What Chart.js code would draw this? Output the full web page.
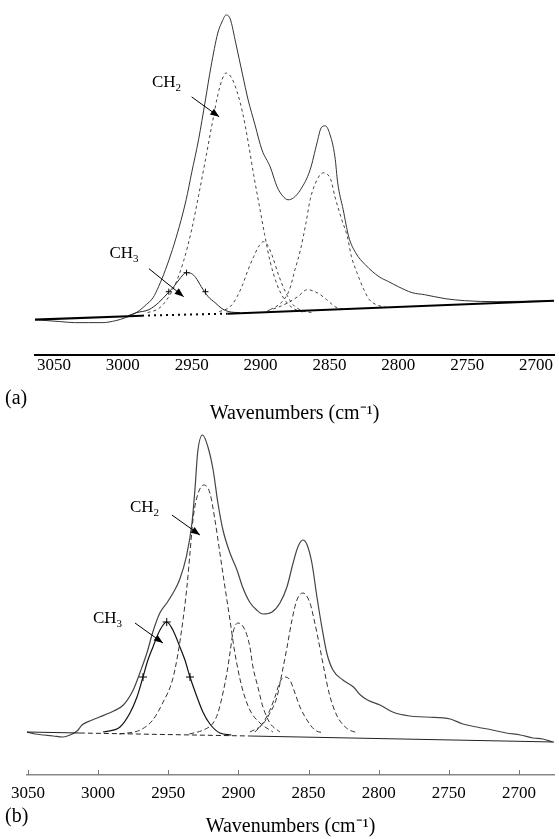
<!DOCTYPE html>
<html>
<head>
<meta charset="utf-8">
<script src="https://cdn.jsdelivr.net/npm/chart.js@4.4.0/dist/chart.umd.min.js"></script>
<style>
  body { margin: 0; background: #fff; }
  #wrap { position: relative; width: 559px; height: 839px; overflow: hidden; }
  canvas { position: absolute; left: 0; }
  .tag { position: absolute; left: 5px; font: 20px 'Liberation Serif', serif; line-height: 24px; color: #000; }
</style>
</head>
<body>
<div id="wrap">
  <canvas id="chartA" width="559" height="430" style="top:0"></canvas>
  <canvas id="chartB" width="559" height="419" style="top:420px"></canvas>
  <div class="tag" style="top:385px">(a)</div>
  <div class="tag" style="top:803px">(b)</div>
</div>
<script>
// ---- panel (a) ----
const aSpecWn = [3063, 3055, 3045, 3035, 3025, 3015, 3005, 2998, 2993, 2988, 2983, 2978, 2974, 2969, 2964, 2959, 2954, 2950, 2945, 2940, 2936, 2931, 2928, 2925, 2922, 2918, 2913, 2909, 2904, 2899, 2893, 2888, 2884, 2880, 2876, 2871, 2864, 2859, 2856, 2853, 2850, 2846, 2844, 2840, 2836, 2831, 2824, 2814, 2807, 2800, 2790, 2781, 2766, 2752, 2729, 2687];
const aSpecAbs = [0.35, 0.34, 0.33, 0.32, 0.32, 0.32, 0.34, 0.37, 0.40, 0.44, 0.50, 0.57, 0.68, 0.85, 1.05, 1.28, 1.55, 1.82, 2.15, 2.55, 2.88, 3.22, 3.33, 3.40, 3.36, 3.12, 2.80, 2.55, 2.30, 2.05, 1.88, 1.68, 1.59, 1.55, 1.57, 1.65, 1.85, 2.12, 2.27, 2.29, 2.22, 1.98, 1.72, 1.45, 1.18, 1.02, 0.90, 0.78, 0.73, 0.68, 0.62, 0.60, 0.56, 0.54, 0.53, 0.54];
const aBaseWn = [3064, 2986, 2924, 2687];
const aBaseAbs = [0.35, 0.39, 0.41, 0.54];
const aCh2Wn = [2982, 2974, 2968, 2962, 2956, 2950, 2945, 2940, 2935, 2931, 2928, 2925, 2921, 2917, 2913, 2909, 2905, 2901, 2897, 2893, 2888, 2883, 2877, 2868];
const aCh2Abs = [0.42, 0.46, 0.55, 0.70, 0.93, 1.25, 1.59, 1.95, 2.32, 2.60, 2.75, 2.82, 2.77, 2.63, 2.42, 2.13, 1.80, 1.50, 1.20, 0.93, 0.70, 0.56, 0.47, 0.42];
const aB2898Wn = [2930, 2922, 2917, 2913, 2909, 2905, 2901, 2898, 2895, 2891, 2887, 2882, 2877, 2870, 2862];
const aB2898Abs = [0.43, 0.48, 0.58, 0.70, 0.85, 0.98, 1.09, 1.13, 1.10, 0.97, 0.80, 0.63, 0.51, 0.44, 0.42];
const aB2852Wn = [2893, 2885, 2879, 2875, 2871, 2867, 2864, 2859, 2854.5, 2849, 2846, 2841, 2837, 2834, 2830, 2825, 2821, 2816, 2808];
const aB2852Abs = [0.45, 0.52, 0.65, 0.85, 1.05, 1.32, 1.55, 1.75, 1.82, 1.75, 1.58, 1.35, 1.18, 0.98, 0.82, 0.65, 0.55, 0.50, 0.47];
const aB2866Wn = [2895, 2888, 2880, 2873, 2866, 2859, 2852, 2846, 2842, 2835];
const aB2866Abs = [0.44, 0.47, 0.52, 0.58, 0.65, 0.62, 0.55, 0.48, 0.46, 0.45];
const aCh3Wn = [2996, 2990, 2981, 2974, 2967, 2963, 2958, 2954, 2950, 2947, 2943, 2938, 2933, 2928, 2923, 2915];
const aCh3Abs = [0.39, 0.42, 0.45, 0.52, 0.62, 0.68, 0.77, 0.82, 0.81, 0.77, 0.68, 0.58, 0.52, 0.46, 0.43, 0.42];
const aMarkWn = [2966.6, 2953.7, 2940];
const aMarkAbs = [0.63, 0.82, 0.63];

// ---- panel (b) ----
const bSpecWn = [3051, 3045, 3039, 3032, 3025, 3020, 3015, 3011.5, 3006, 2999, 2989, 2982, 2975, 2970, 2965, 2961, 2956, 2951, 2947, 2942, 2937, 2933, 2931, 2929, 2925.5, 2921.7, 2918, 2914.6, 2911, 2906, 2901, 2897, 2892, 2887, 2882.5, 2876, 2870.4, 2865.4, 2861, 2857.6, 2854, 2851, 2847.6, 2844, 2840.5, 2837, 2832.6, 2825.5, 2818, 2813, 2808, 2799, 2790, 2778, 2766, 2749, 2740, 2730, 2719, 2709, 2699, 2690, 2683, 2676];
const bSpecAbs = [0.43, 0.41, 0.40, 0.39, 0.38, 0.40, 0.44, 0.50, 0.54, 0.58, 0.64, 0.70, 0.85, 1.03, 1.23, 1.43, 1.62, 1.72, 1.81, 1.95, 2.19, 2.53, 2.85, 3.23, 3.40, 3.28, 3.05, 2.72, 2.45, 2.22, 2.05, 1.88, 1.73, 1.65, 1.61, 1.63, 1.72, 1.88, 2.12, 2.28, 2.35, 2.30, 2.12, 1.78, 1.48, 1.22, 1.05, 0.95, 0.88, 0.80, 0.75, 0.70, 0.63, 0.59, 0.58, 0.56, 0.51, 0.48, 0.45, 0.42, 0.40, 0.37, 0.36, 0.33];
const bBaseWn = [3051, 3013, 2892, 2675];
const bBaseAbs = [0.43, 0.42, 0.39, 0.33];
const bCh2Wn = [2985, 2970, 2961, 2954, 2947, 2943, 2939.5, 2936.7, 2934.5, 2932.4, 2929.5, 2924.6, 2920.3, 2916.7, 2913.2, 2909.6, 2906, 2902.5, 2897.5, 2891.8, 2884.6, 2875.4];
const bCh2Abs = [0.41, 0.45, 0.55, 0.72, 0.95, 1.22, 1.55, 1.88, 2.22, 2.55, 2.78, 2.90, 2.82, 2.55, 2.22, 1.88, 1.55, 1.22, 0.88, 0.65, 0.52, 0.43];
const bB2898Wn = [2935, 2925, 2918, 2914.6, 2911, 2908.2, 2906, 2903.9, 2900.3, 2895.3, 2891.8, 2889.6, 2886.1, 2882.5, 2877.5, 2870.4];
const bB2898Abs = [0.41, 0.45, 0.52, 0.62, 0.82, 1.02, 1.22, 1.42, 1.52, 1.45, 1.28, 1.08, 0.88, 0.68, 0.52, 0.43];
const bB2852Wn = [2891.8, 2883.2, 2877.5, 2872.5, 2868.9, 2865.3, 2861.8, 2858.3, 2854, 2849, 2845.5, 2842, 2838.4, 2835, 2830, 2823, 2815];
const bB2852Abs = [0.43, 0.50, 0.62, 0.78, 1.02, 1.28, 1.55, 1.75, 1.82, 1.72, 1.52, 1.28, 1.02, 0.80, 0.60, 0.47, 0.42];
const bB2867Wn = [2888.2, 2882.5, 2877.5, 2873.9, 2870.4, 2866.8, 2863.3, 2859.7, 2856.1, 2851.1, 2845.5, 2839];
const bB2867Abs = [0.43, 0.52, 0.65, 0.78, 0.93, 0.98, 0.95, 0.82, 0.68, 0.55, 0.45, 0.42];
const bCh3Wn = [2996.5, 2984.4, 2977.3, 2972.3, 2968, 2964.5, 2960.9, 2955.9, 2951.1, 2946.7, 2941.7, 2938.1, 2934.5, 2929.5, 2925.3, 2920.3, 2913.2, 2905];
const bCh3Abs = [0.43, 0.48, 0.62, 0.78, 0.98, 1.15, 1.28, 1.45, 1.53, 1.45, 1.28, 1.15, 0.98, 0.78, 0.63, 0.51, 0.42, 0.40];
const bMarkWn = [2968, 2951.1, 2934.5];
const bMarkAbs = [0.98, 1.53, 0.98];

const xTicks = [3050, 3000, 2950, 2900, 2850, 2800, 2750, 2700];
const axisTitle = 'Wavenumbers (cm\u207B\u00B9)';

Chart.defaults.font.family = "'Liberation Serif', 'Times New Roman', serif";
Chart.defaults.color = '#000';

function pts(wn, abs) {
  return wn.map((w, i) => ({ x: w, y: abs[i] }));
}

// CH2 / CH3 labels with arrows, placed in data coordinates
const calloutPlugin = {
  id: 'callouts',
  afterDatasetsDraw(chart, args, opts) {
    const { ctx, scales: { x, y } } = chart;
    ctx.save();
    ctx.fillStyle = '#000';
    ctx.strokeStyle = '#000';
    ctx.lineWidth = 1;
    opts.items.forEach(it => {
      const tx = x.getPixelForValue(it.at[0]);
      const ty = y.getPixelForValue(it.at[1]);
      ctx.font = "17px 'Liberation Serif'";
      ctx.textBaseline = 'alphabetic';
      ctx.fillText('CH', tx, ty);
      const w = ctx.measureText('CH').width;
      ctx.font = "11px 'Liberation Serif'";
      ctx.fillText(it.sub, tx + w, ty + 4);

      const x1 = x.getPixelForValue(it.from[0]), y1 = y.getPixelForValue(it.from[1]);
      const x2 = x.getPixelForValue(it.to[0]), y2 = y.getPixelForValue(it.to[1]);
      ctx.beginPath();
      ctx.moveTo(x1, y1);
      ctx.lineTo(x2, y2);
      ctx.stroke();
      const a = Math.atan2(y2 - y1, x2 - x1);
      ctx.beginPath();
      ctx.moveTo(x2, y2);
      ctx.lineTo(x2 - 9 * Math.cos(a) + 3.5 * Math.sin(a), y2 - 9 * Math.sin(a) - 3.5 * Math.cos(a));
      ctx.lineTo(x2 - 9 * Math.cos(a) - 3.5 * Math.sin(a), y2 - 9 * Math.sin(a) + 3.5 * Math.cos(a));
      ctx.closePath();
      ctx.fill();
    });
    ctx.restore();
  }
};

// short tick marks pointing up into the plot (panel b)
const innerTicksPlugin = {
  id: 'innerTicks',
  afterDraw(chart, args, opts) {
    if (!opts.show) return;
    const { ctx, chartArea, scales: { x } } = chart;
    ctx.save();
    ctx.strokeStyle = '#777';
    ctx.lineWidth = 1;
    x.ticks.forEach(t => {
      if (!xTicks.includes(t.value)) return;
      const px = Math.round(x.getPixelForValue(t.value)) + 0.5;
      ctx.beginPath();
      ctx.moveTo(px, chartArea.bottom);
      ctx.lineTo(px, chartArea.bottom - 5);
      ctx.stroke();
    });
    ctx.restore();
  }
};

function line(data, color, width, dash) {
  return {
    data, borderColor: color, borderWidth: width, borderDash: dash || [],
    pointRadius: 0, fill: false, cubicInterpolationMode: 'monotone'
  };
}

function buildChart(id, datasets, xOpts, padding, callouts, innerTicks) {
  return new Chart(document.getElementById(id), {
    type: 'line',
    data: { datasets },
    plugins: [calloutPlugin, innerTicksPlugin],
    options: {
      responsive: false,
      animation: false,
      devicePixelRatio: 1,
      layout: { padding },
      plugins: {
        legend: { display: false },
        tooltip: { enabled: false },
        callouts: { items: callouts },
        innerTicks: { show: innerTicks }
      },
      scales: {
        x: xOpts,
        y: { display: false, min: 0, max: 3.5 }
      }
    }
  });
}

function tickCallback(v) {
  return xTicks.includes(v) ? String(v) : '';
}

// panel (a)
const aBase = line(pts(aBaseWn, aBaseAbs), '#000', 2);
aBase.segment = { borderDash: ctx => ctx.p0DataIndex === 1 ? [2, 4] : undefined };
aBase.cubicInterpolationMode = 'default';
aBase.tension = 0;
const aMarks = {
  data: pts(aMarkWn, aMarkAbs), showLine: false, pointStyle: 'cross',
  pointRadius: 3, borderColor: '#000', borderWidth: 1
};

buildChart('chartA', [
  aBase,
  line(pts(aCh2Wn, aCh2Abs), '#444', 1, [3, 3]),
  line(pts(aB2898Wn, aB2898Abs), '#444', 1, [3, 3]),
  line(pts(aB2852Wn, aB2852Abs), '#444', 1, [3, 3]),
  line(pts(aB2866Wn, aB2866Abs), '#444', 1, [3, 3]),
  line(pts(aCh3Wn, aCh3Abs), '#222', 1),
  aMarks,
  line(pts(aSpecWn, aSpecAbs), '#333', 1)
], {
  type: 'linear', reverse: true, min: 2687, max: 3063.7,
  ticks: { stepSize: 50, includeBounds: false, padding: 1, maxRotation: 0, color: '#000', font: { size: 17 }, callback: tickCallback },
  grid: { display: true, drawOnChartArea: false, drawTicks: false },
  border: { display: true, color: '#000', width: 2 },
  title: { display: true, text: axisTitle, color: '#000', font: { size: 20 }, padding: { top: 25, bottom: 4 } }
}, { left: 35, right: 0, top: 5, bottom: 0 }, [
  { sub: '2', at: [2978.8, 2.68], from: [2950, 2.58], to: [2930, 2.38] },
  { sub: '3', at: [3009.7, 0.97], from: [2981, 0.86], to: [2955.8, 0.58] }
], false);

// panel (b)
const bBase = line(pts(bBaseWn, bBaseAbs), '#222', 1);
bBase.segment = { borderDash: ctx => ctx.p0DataIndex === 1 ? [5, 3] : undefined };
bBase.cubicInterpolationMode = 'default';
bBase.tension = 0;
const bMarks = {
  data: pts(bMarkWn, bMarkAbs), showLine: false, pointStyle: 'cross',
  pointRadius: 4, borderColor: '#000', borderWidth: 1
};

buildChart('chartB', [
  bBase,
  line(pts(bCh2Wn, bCh2Abs), '#333', 1, [5, 3]),
  line(pts(bB2898Wn, bB2898Abs), '#333', 1, [5, 3]),
  line(pts(bB2852Wn, bB2852Abs), '#333', 1, [5, 3]),
  line(pts(bB2867Wn, bB2867Abs), '#333', 1, [5, 3]),
  line(pts(bCh3Wn, bCh3Abs), '#111', 1.2),
  bMarks,
  line(pts(bSpecWn, bSpecAbs), '#444', 1.2)
], {
  type: 'linear', reverse: true, min: 2675, max: 3050.7,
  ticks: { stepSize: 50, includeBounds: false, padding: 8, maxRotation: 0, color: '#000', font: { size: 17 }, callback: tickCallback },
  grid: { display: true, drawOnChartArea: false, drawTicks: false },
  border: { display: true, color: '#888', width: 1.5 },
  title: { display: true, text: axisTitle, color: '#000', font: { size: 20 }, padding: { top: 3.6, bottom: 0 } }
}, { left: 27, right: 5, top: 5, bottom: 0 }, [
  { sub: '2', at: [2977.3, 2.63], from: [2947.4, 2.60], to: [2927.4, 2.40] },
  { sub: '3', at: [3003.7, 1.52], from: [2973.7, 1.52], to: [2953.8, 1.32] }
], true);
</script>
</body>
</html>
